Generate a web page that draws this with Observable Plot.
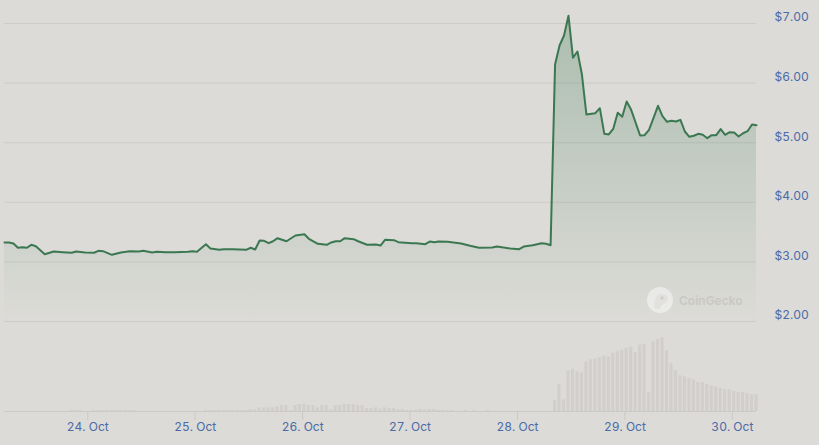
<!DOCTYPE html>
<html><head><meta charset="utf-8">
<script src="https://cdn.jsdelivr.net/npm/d3@7"></script>
<script src="https://cdn.jsdelivr.net/npm/@observablehq/plot@0.6"></script>
<style>
html,body{margin:0;padding:0;background:#dcdbd7;}
#wrap{position:relative;width:819px;height:445px;overflow:hidden;font-family:Inter,"Noto Sans",sans-serif;}
#wrap svg{position:absolute;left:0;top:0;background:transparent;overflow:visible;}
#wm{position:absolute;left:647px;top:287px;display:flex;align-items:center;gap:6px;color:#c9c8c4;font-size:12px;font-weight:600;font-family:Inter,sans-serif;}
#wm svg{position:static;}
</style></head><body><div id="wrap"></div>
<script>
// time base: hours counted from 23 Oct 2023 00:24 UTC
const baseTime = Date.UTC(2023, 9, 23, 0, 24);
const startHour = 5, endHour = 173;

const priceHour = [
  5,6,7,8,9,10,11,12,14,16,18,20,21,23,25,26,27,29,31,33,35,36,38,39,41,43,46,47,48,50,
  51,53,54,56,59,60,61,62,63,64,65,66,68,70,72,73,75,77,78,79,80,81,83,84,86,88,89,90,92,93,
  96,97,99,100,101,102,104,107,109,111,114,115,118,120,121,123,125,126,127,
  128,129,130,131,132,133,134,135,137,138,139,140,141,142,143,144,145,
  147,148,149,150,151,152,153,154,155,156,157,158,159,160,161,162,163,164,165,166,167,168,169,170,171,172,173
];
const priceUsd = [
  3.326,3.326,3.31,3.237,3.247,3.237,3.287,3.263,3.129,3.175,3.163,3.153,3.175,3.158,3.153,3.186,3.180,3.119,3.158,3.180,3.175,3.186,3.158,3.170,3.163,3.163,3.170,3.180,3.170,3.297,
  3.225,3.203,3.213,3.213,3.203,3.237,3.208,3.359,3.354,3.314,3.347,3.398,3.347,3.443,3.465,3.388,3.304,3.287,3.326,3.347,3.347,3.398,3.381,3.347,3.287,3.292,3.275,3.371,3.364,3.331,
  3.314,3.314,3.297,3.342,3.331,3.342,3.337,3.309,3.270,3.237,3.242,3.258,3.225,3.213,3.258,3.280,3.314,3.304,3.280,
  6.312,6.631,6.799,7.129,6.425,6.530,6.144,5.473,5.495,5.579,5.149,5.138,5.233,5.502,5.435,5.691,5.552,
  5.121,5.126,5.217,5.418,5.619,5.445,5.351,5.368,5.356,5.384,5.188,5.099,5.116,5.149,5.133,5.076,5.126,5.126,5.227,5.133,5.176,5.171,5.104,5.159,5.193,5.305,5.294
];

const volHour = [
  20,21,22,25,26,27,28,29,30,31,32,33,34,50,51,52,53,54,55,56,57,58,59,
  60,61,62,63,64,65,66,67,68,69,70,71,72,73,74,75,76,77,78,79,80,81,82,83,84,85,86,87,88,89,90,91,92,93,94,95,96,97,98,99,100,101,102,103,104,105,
  108,110,113,
  128,129,130,131,132,133,134,135,136,137,138,139,140,141,142,143,144,145,146,147,148,149,150,151,152,153,154,155,156,157,158,159,160,161,162,163,164,165,166,167,168,169,170,171,172,173
];
const volUsdK = [
  30,30,30,30,30,30,30,30,30,30,30,30,30,30,30,30,30,30,30,30,30,30,30,
  50,50,110,110,110,110,140,180,180,30,180,210,210,180,180,110,180,180,60,180,180,210,210,210,180,180,90,90,110,70,110,90,90,60,60,30,30,40,60,40,60,60,30,30,30,30,
  30,30,30,
  320,820,350,1220,1270,1190,1160,1490,1550,1570,1610,1670,1640,1750,1810,1840,1900,1930,1760,1990,2020,560,2090,2170,2210,1820,1430,1220,1070,1040,990,950,870,860,820,770,730,690,650,650,600,570,570,540,500,500
];

const priceTicks = [2, 3, 4, 5, 6, 7];
const dayTicks = ["2023-10-24","2023-10-25","2023-10-26","2023-10-27","2023-10-28","2023-10-29","2023-10-30"];

const toDate = h => new Date(baseTime + h * 3600e3);
const priceData = priceHour.map((h, i) => ({t: toDate(h), p: priceUsd[i]}));
const volData = volHour.map((h, i) => ({t1: new Date(toDate(h) - 21*60e3), t2: new Date(+toDate(h) + 21*60e3), v: volUsdK[i]}));
const xDomain = [toDate(startHour), toDate(endHour)];

const blue = "#4a6aa8";
const gradDefs = () => {
  const defs = d3.create("svg:defs");
  const g = defs.append("linearGradient").attr("id", "pfill").attr("x1", 0).attr("x2", 0).attr("y1", 0).attr("y2", 1);
  g.append("stop").attr("offset", "0%").attr("stop-color", "#3b7852").attr("stop-opacity", 0.3);
  g.append("stop").attr("offset", "100%").attr("stop-color", "#3b7852").attr("stop-opacity", 0.0);
  return defs.node();
};

const volPlot = Plot.plot({
  width: 819, height: 445, marginTop: 331, marginBottom: 34, marginLeft: 4, marginRight: 63,
  style: {background: "transparent", fontFamily: "Inter, sans-serif", fontSize: "12px"},
  x: {type: "utc", domain: xDomain, axis: null, label: null},
  y: {domain: [0, 2400], axis: null, label: null},
  marks: [
    Plot.rectY(volData, {x1: "t1", x2: "t2", y: "v", fill: "#d2cecb"}),
    Plot.ruleY([0], {stroke: "#cbcac6"}),
    Plot.axisX(dayTicks.map(d => new Date(d)), {label: null, tickSize: 9, tickPadding: 2, stroke: "#cbcac6", fill: blue, fontSize: 12, tickFormat: d3.utcFormat("%-d. %b")})
  ]
});

const pricePlot = Plot.plot({
  width: 819, height: 330, marginTop: 0, marginBottom: 9, marginLeft: 4, marginRight: 63,
  style: {background: "transparent", fontFamily: "Inter, sans-serif", fontSize: "12px"},
  x: {type: "utc", domain: xDomain, axis: null, label: null},
  y: {domain: [2, 7.386], axis: null, label: null},
  marks: [
    gradDefs,
    Plot.gridY(priceTicks, {stroke: "#cdccc8", strokeOpacity: 1}),
    Plot.areaY(priceData, {x: "t", y1: 2, y2: "p", fill: "url(#pfill)"}),
    Plot.lineY(priceData, {x: "t", y: "p", stroke: "#3b7852", strokeWidth: 2}),
    Plot.axisY(priceTicks, {anchor: "right", label: null, tickSize: 0, tickPadding: 18, dy: -6, fill: blue, fontSize: 12, tickFormat: d => "$" + d.toFixed(2)})
  ]
});

const wrap = document.getElementById("wrap");
wrap.append(volPlot, pricePlot);
const wm = document.createElement("div");
wm.id = "wm";
wm.innerHTML = '<svg width="26" height="26" viewBox="0 0 26 26"><circle cx="13" cy="13" r="13" fill="#ffffff" fill-opacity="0.45"/><path d="M8 22 C6 14 9 6 16 7 C21 8 22 12 20 15 C17 17 14 17 13 22 Z" fill="#dcdbd7" fill-opacity="0.6"/><circle cx="15" cy="11" r="1.8" fill="#cfcecb"/></svg><span>CoinGecko</span>';
wrap.append(wm);
</script></body></html>
